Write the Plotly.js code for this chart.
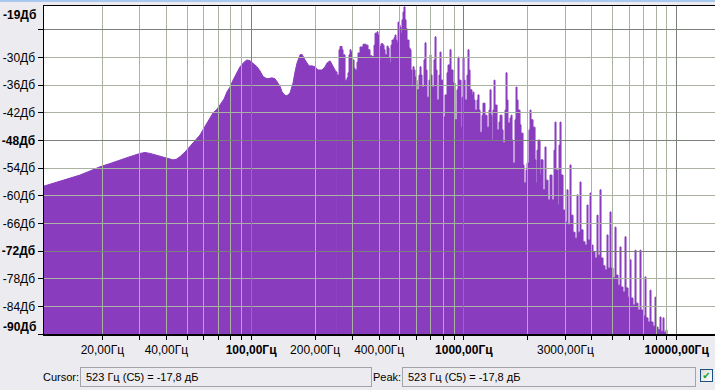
<!DOCTYPE html>
<html>
<head>
<meta charset="utf-8">
<script src="https://cdn.plot.ly/plotly-3.0.1.min.js"></script>
<style>
  html, body { margin:0; padding:0; background:#ecebef; }
  #wrap { position:relative; width:715px; height:390px; overflow:hidden; background:#ecebef; }
  #chart { position:absolute; left:0; top:0; width:715px; height:390px; }
  .topline { position:absolute; left:0; top:0; width:715px; height:2px; background:#a8c8ef; }
  .lbl { position:absolute; font-family:"Liberation Sans", Arial, sans-serif; font-size:11px; color:#000; line-height:20px; }
  .box { position:absolute; box-sizing:border-box; height:20px; border:1px solid #a3a3a8; background:#ecebef;
         font-family:"Liberation Sans", Arial, sans-serif; font-size:11px; color:#000; line-height:18px; padding-left:5px; }
  .chk { position:absolute; left:700px; top:369px; width:13px; height:13px; box-sizing:border-box;
         border:1px solid #1c5180; background:linear-gradient(135deg,#dcdcd7,#ffffff); color:#1fa31f;
         font-family:"DejaVu Sans", sans-serif; font-size:10px; line-height:11px; text-align:center; overflow:hidden; }
  .shapelayer path { shape-rendering: crispEdges; }
</style>
</head>
<body>
<div id="wrap">
  <div id="chart"></div>
  <div class="topline"></div>
  <div class="lbl" style="left:43px; top:367px;">Cursor:</div>
  <div class="box" id="cursorBox" style="left:80px; top:367px; width:292px;"></div>
  <div class="lbl" style="left:373px; top:367px;">Peak:</div>
  <div class="box" id="peakBox" style="left:402px; top:367px; width:294px;"></div>
  <div class="chk">✔</div>
</div>
<script>
// ---- spectrum data (frequency in Hz, level in dB) ----
// smooth low-frequency part
const lowFreqHz = [
  10.64, 11.36, 12.66, 14.10, 15.71, 17.51, 19.51, 21.74, 24.22, 26.99,
  30.08, 31.75, 33.51, 35.37, 37.34, 39.42, 41.61, 42.98, 44.40, 46.36,
  48.94, 51.66, 54.53, 57.56, 60.11, 62.09, 64.14, 66.26, 69.19, 71.47,
  74.63, 77.10, 79.64, 82.27, 85.91, 88.74, 92.67, 95.72, 98.88, 102.1,
  106.7, 110.2, 113.8, 118.9, 122.8, 125.5, 129.6, 132.4, 136.8, 139.8,
  142.9, 146.0, 149.2, 152.4, 157.5, 160.9, 164.4, 169.9, 173.6, 179.3,
  187.2, 193.4, 199.8, 206.4, 215.5, 222.6, 227.5, 235.0, 242.7, 250.8
];
const lowLevelDb = [
  -57.9, -57.5, -56.9, -56.2, -55.5, -54.6, -53.7, -53.0, -52.2, -51.5,
  -50.8, -50.6, -50.8, -51.1, -51.5, -51.8, -52.1, -52.2, -52.1, -51.5,
  -50.5, -49.3, -48.1, -46.8, -45.3, -44.2, -42.9, -42.0, -41.2, -40.3,
  -39.0, -37.4, -36.4, -34.9, -33.1, -32.0, -31.0, -30.5, -30.7, -31.2,
  -32.0, -32.9, -34.1, -34.6, -34.4, -34.4, -34.6, -35.2, -36.2, -37.4,
  -38.0, -38.3, -38.1, -37.7, -35.5, -33.1, -31.2, -29.4, -29.3, -30.5,
  -31.8, -31.8, -32.0, -32.7, -32.7, -32.0, -31.2, -30.7, -32.0, -33.1
];
// harmonic (spiky) part
const highFreqHz = [
  250.8,
  253.5, 259.0, 261.8, 267.6, 270.5, 276.4, 282.4, 285.5, 288.6, 291.8,
  294.9, 298.1, 304.7, 308.0, 314.7, 318.1, 325.1, 335.8, 346.9, 354.5,
  362.2, 370.2, 378.3, 382.4, 390.7, 395.0, 399.3, 408.0, 417.0, 421.5,
  426.1, 435.4, 440.2, 444.9, 449.8, 454.7, 459.6, 469.7, 474.8, 479.9,
  485.2, 490.4, 495.8, 501.2, 506.6, 512.1, 517.7, 523.0, 529.0, 534.8,
  540.6, 552.4, 558.4, 564.5, 570.6, 576.8, 583.1, 589.5, 595.9, 602.4,
  615.5, 622.2, 629.0, 635.9, 649.8, 656.8, 664.0, 671.2, 685.9, 693.4,
  700.9, 708.5, 724.0, 731.9, 739.9, 747.9, 764.3, 772.6, 781.0, 798.1,
  815.5, 833.4, 842.4, 860.8, 870.2, 889.2, 908.7, 928.6, 938.7, 948.9,
  969.6, 980.2, 990.9, 1002, 1013, 1035, 1046, 1057, 1069, 1092,
  1104, 1116, 1128, 1153, 1165, 1178, 1191, 1217, 1230, 1257,
  1285, 1313, 1327, 1342, 1356, 1371, 1386, 1401, 1432, 1463,
  1479, 1511, 1528, 1561, 1578, 1595, 1612, 1648, 1666, 1684,
  1702, 1739, 1758, 1777, 1797, 1836, 1856, 1897, 1917, 1959,
  1981, 2024, 2046, 2068, 2113, 2160, 2183, 2207, 2231, 2280,
  2304, 2355, 2406, 2432, 2486, 2540, 2596, 2652, 2681, 2710,
  2770, 2800, 2830, 2861, 2924, 2988, 3053, 3086, 3154, 3188,
  3258, 3329, 3402, 3439, 3514, 3552, 3630, 3709, 3791, 3832,
  3916, 3958, 4045, 4133, 4224, 4270, 4363, 4411, 4507, 4606,
  4706, 4758, 4862, 4915, 5022, 5132, 5188, 5301, 5417, 5476,
  5596, 5718, 5781, 5907, 6036, 6102, 6235, 6372, 6441, 6582,
  6726, 6799, 6948, 7100, 7177, 7334, 7494, 7576, 7742, 7911,
  7997, 8172, 8351, 8442, 8626, 8720, 8911, 9008, 9305, 15140
];
const highLevelDb = [
  -33.1,
  -33.8, -28.3, -27.6, -28.3, -29.4, -34.9, -34.4, -33.3, -29.4, -28.3,
  -28.8, -30.5, -32.3, -32.7, -31.0, -29.0, -27.7, -27.1, -27.3, -28.3,
  -29.6, -29.8, -27.3, -24.7, -24.4, -25.1, -27.6, -27.0, -27.3, -28.3,
  -29.4, -27.5, -27.9, -30.1, -31.2, -27.3, -26.2, -25.7, -25.1, -26.2,
  -26.8, -22.3, -22.9, -23.4, -24.7, -21.8, -20.1, -19.0, -21.8, -23.7,
  -26.2, -27.9, -28.3, -32.7, -36.4, -32.0, -32.7, -34.2, -34.9, -37.0,
  -33.8, -32.0, -33.8, -36.4, -30.5, -26.8, -32.7, -38.6, -34.9, -29.4,
  -33.8, -36.4, -30.5, -25.5, -32.7, -39.2, -33.8, -28.8, -34.9, -42.9,
  -38.1, -33.3, -31.6, -28.3, -32.7, -35.5, -43.5, -37.0, -29.9, -34.9,
  -45.1, -38.6, -29.9, -34.9, -39.2, -33.8, -28.3, -32.7, -37.0, -38.1,
  -37.5, -39.2, -41.4, -39.2, -38.1, -41.4, -46.2, -42.5, -39.9, -42.5,
  -45.1, -41.4, -37.0, -42.5, -47.9, -41.4, -34.9, -40.3, -45.7, -44.0,
  -42.5, -45.7, -48.5, -41.4, -33.3, -39.2, -44.2, -43.1, -42.5, -47.9,
  -52.9, -43.5, -36.4, -39.2, -41.4, -44.6, -46.4, -53.3, -57.2, -54.4,
  -52.9, -45.7, -41.4, -43.5, -45.1, -52.2, -57.2, -50.1, -47.9, -55.5,
  -52.2, -58.7, -49.4, -56.6, -60.9, -55.5, -60.9, -50.1, -44.0, -54.4,
  -62.0, -49.0, -44.0, -55.5, -63.1, -65.7, -58.7, -66.3, -53.3, -64.2,
  -67.9, -69.2, -59.8, -67.9, -57.0, -67.4, -70.0, -70.7, -62.0, -69.6,
  -59.4, -70.7, -72.2, -73.5, -64.2, -72.9, -58.7, -73.5, -75.2, -76.1,
  -68.5, -75.7, -63.5, -75.7, -77.8, -66.8, -77.2, -79.4, -71.1, -79.8,
  -80.9, -68.9, -80.0, -82.0, -73.9, -82.2, -83.7, -71.8, -83.3, -84.8,
  -71.8, -84.8, -86.1, -77.6, -86.5, -87.4, -80.5, -87.4, -88.3, -82.0,
  -88.5, -89.1, -86.3, -89.4, -86.5, -89.6, -89.1, -91.3, -95.0, -95.0
];

// ---- axes ----
const freqRange = [10.64, 15140];
const dbRange = [-90, -18.8];
const dbFloor = -100;

const xTickVals = [20,30,40,50,60,70,80,90,100,200,300,400,500,600,700,800,900,
                   1000,2000,3000,4000,5000,6000,7000,8000,9000,10000];
const xTickText = ['20,00Гц','','40,00Гц','','','','','','<b>100,00Гц</b>',
                   '200,00Гц','','400,00Гц','','','','','','<b>1000,00Гц</b>',
                   '','3000,00Гц','','','','','','','<b>10000,00Гц</b>'];
const xGridMinor = [20,30,40,50,60,70,80,90,200,300,400,500,600,700,800,900,
                    2000,3000,4000,5000,6000,7000,8000,9000];
const xGridMajor = [100,1000,10000];

const yTickVals = [-24,-30,-36,-42,-48,-54,-60,-66,-72,-78,-84,-90];
const yTickText = ['','-30Дб','-36Дб','-42Дб','<b>-48Дб</b>','-54Дб','-60Дб','-66Дб',
                   '<b>-72Дб</b>','-78Дб','-84Дб',''];
const yGridMinor = [-30,-36,-42,-54,-60,-66,-78,-84];
const yGridMajor = [-24,-48,-72];
const topLabel = '<b>-19Дб</b>';
const bottomLabel = '<b>-90Дб</b>';

const cursorText = '523 Гц (C5) = -17,8 дБ';
const peakText = '523 Гц (C5) = -17,8 дБ';

// ---- styling ----
const PURPLE = '#893cbe';
const MINOR = '#a9b2a3';
const MAJOR = '#7c827a';
const FONT = {family:'"Liberation Sans", Arial, sans-serif', size:12, color:'#000'};

const shapes = [];
xGridMinor.forEach(f => shapes.push({type:'line', xref:'x', yref:'paper', x0:f, x1:f, y0:0, y1:1, layer:'above', line:{color:MINOR, width:1}}));
yGridMinor.forEach(v => shapes.push({type:'line', xref:'paper', yref:'y', x0:0, x1:1, y0:v, y1:v, layer:'above', line:{color:MINOR, width:1}}));
xGridMajor.forEach(f => shapes.push({type:'line', xref:'x', yref:'paper', x0:f, x1:f, y0:0, y1:1, layer:'above', line:{color:MAJOR, width:1}}));
yGridMajor.forEach(v => shapes.push({type:'line', xref:'paper', yref:'y', x0:0, x1:1, y0:v, y1:v, layer:'above', line:{color:MAJOR, width:1}}));

function floorTrace(xs) {
  return {x:[xs[0], xs[xs.length-1]], y:[dbFloor, dbFloor], mode:'lines',
          line:{width:0, color:PURPLE}, hoverinfo:'skip', showlegend:false};
}
const traces = [
  floorTrace(lowFreqHz),
  {x:lowFreqHz, y:lowLevelDb, mode:'lines', fill:'tonexty', fillcolor:PURPLE,
   line:{width:1, color:PURPLE, shape:'linear'}, showlegend:false},
  floorTrace(highFreqHz),
  {x:highFreqHz, y:highLevelDb, mode:'lines', fill:'tonexty', fillcolor:PURPLE,
   line:{width:1, color:PURPLE, shape:'hv'}, showlegend:false}
];

const layout = {
  width:715, height:390,
  margin:{l:44, r:0, t:6, b:56, pad:0},
  paper_bgcolor:'#ecebef', plot_bgcolor:'#ffffff',
  font:FONT, showlegend:false,
  xaxis:{type:'log', range:freqRange.map(Math.log10), tickmode:'array', tickvals:xTickVals, ticktext:xTickText,
         ticks:'outside', ticklen:4, tickcolor:'#000', showgrid:false, zeroline:false,
         showline:true, mirror:true, linecolor:'#000', linewidth:1.5, layer:'above traces',
         tickfont:FONT, fixedrange:true},
  yaxis:{range:dbRange, tickmode:'array', tickvals:yTickVals, ticktext:yTickText,
         ticks:'outside', ticklen:5, tickcolor:'#000', showgrid:false, zeroline:false,
         showline:true, linecolor:'#000', linewidth:1.5, layer:'above traces',
         tickfont:FONT, fixedrange:true},
  shapes:shapes,
  annotations:[
    {text:topLabel, xref:'paper', yref:'paper', x:0, y:1, xanchor:'right', yanchor:'middle',
     xshift:-6, yshift:-9, showarrow:false, font:FONT},
    {text:bottomLabel, xref:'paper', yref:'paper', x:0, y:0, xanchor:'right', yanchor:'middle',
     xshift:-6, yshift:7, showarrow:false, font:FONT}
  ]
};

document.getElementById('cursorBox').textContent = cursorText;
document.getElementById('peakBox').textContent = peakText;
Plotly.newPlot('chart', traces, layout, {displayModeBar:false, staticPlot:true});
</script>
</body>
</html>
